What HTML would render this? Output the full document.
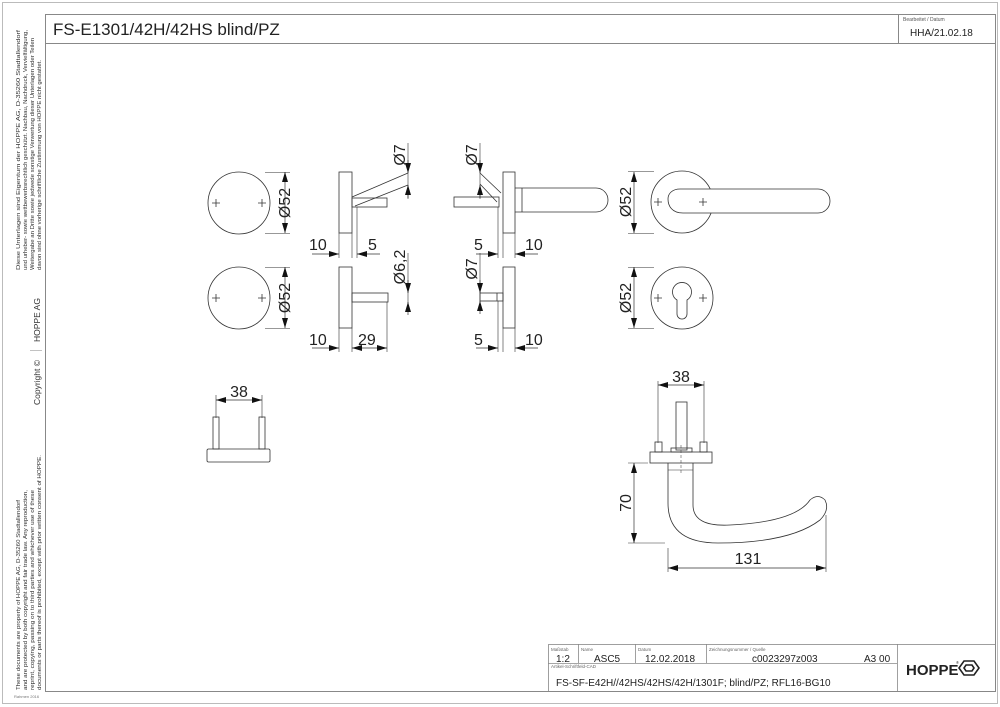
<!DOCTYPE html>
<html><head><meta charset="utf-8"><style>
html,body{margin:0;padding:0;background:#fff;}
svg{display:block;font-family:"Liberation Sans",sans-serif;}
</style></head><body>
<svg width="1000" height="707" viewBox="0 0 1000 707" xmlns="http://www.w3.org/2000/svg">
<defs>
<marker id="a" viewBox="0 0 10 6" refX="10" refY="3" markerWidth="10" markerHeight="6" orient="auto-start-reverse" markerUnits="userSpaceOnUse"><path d="M0,0 L10,3 L0,6 Z" fill="#111"/></marker>
</defs>
<rect x="2.5" y="2.5" width="995" height="701" fill="none" stroke="#bbb" stroke-width="1"/>
<!-- frame -->
<rect x="45.5" y="14.5" width="950" height="677" fill="none" stroke="#888" stroke-width="1"/>
<line x1="45" y1="43.5" x2="995" y2="43.5" stroke="#888"/>
<line x1="898.5" y1="14" x2="898.5" y2="43" stroke="#888"/>
<text x="53" y="35" font-size="17" fill="#222">FS-E1301/42H/42HS blind/PZ</text>
<text x="903" y="21" font-size="5" fill="#555">Bearbeitet / Datum</text>
<text x="910" y="36" font-size="10" fill="#222">HHA/21.02.18</text>

<!-- left margin text -->
<g font-size="5.6" fill="#333">
<text transform="translate(20,270) rotate(-90)" textLength="240" lengthAdjust="spacingAndGlyphs">Diese Unterlagen sind Eigentum der HOPPE AG, D-35260 Stadtallendorf</text>
<text transform="translate(27,270) rotate(-90)" textLength="240" lengthAdjust="spacingAndGlyphs">und urheber- sowie wettbewerbsrechtlich geschützt. Nachbau, Nachdruck, Vervielfältigung,</text>
<text transform="translate(34,270) rotate(-90)" textLength="232" lengthAdjust="spacingAndGlyphs">Weitergabe an Dritte sowie jedwede sonstige Verwertung dieser Unterlagen oder Teilen</text>
<text transform="translate(41,270) rotate(-90)" textLength="210" lengthAdjust="spacingAndGlyphs">davon sind ohne vorherige schriftliche Zustimmung von HOPPE nicht gestattet.</text>
<text transform="translate(20,690) rotate(-90)" textLength="190" lengthAdjust="spacingAndGlyphs">These documents are property of HOPPE AG, D-35260 Stadtallendorf</text>
<text transform="translate(27,690) rotate(-90)" textLength="200" lengthAdjust="spacingAndGlyphs">and are protected by both copyright and fair trade law. Any reproduction,</text>
<text transform="translate(34,690) rotate(-90)" textLength="200" lengthAdjust="spacingAndGlyphs">reprint, copying, passing on to third parties and whichever use of these</text>
<text transform="translate(41,690) rotate(-90)" textLength="235" lengthAdjust="spacingAndGlyphs">documents or parts thereof is prohibited, except with prior written consent of HOPPE.</text>
</g>
<g font-size="8.5" fill="#333">
<text transform="translate(40,405) rotate(-90)">Copyright ©</text>
<text transform="translate(40,342) rotate(-90)">HOPPE  AG</text>
</g>
<line x1="30" y1="350.5" x2="42" y2="350.5" stroke="#999" stroke-width="0.6"/>
<text x="14" y="698" font-size="4" fill="#777">Rahmen 2016</text>

<g fill="none" stroke="#333" stroke-width="0.8">
<!-- row1 front rose -->
<circle cx="239" cy="203" r="31"/>
<path d="M212,203h8M216,199v8M258,203h8M262,199v8"/>
<circle cx="239" cy="298" r="31"/>
<path d="M212,298h8M216,294v8M258,298h8M262,294v8"/>
<!-- extension lines -->
<path d="M265,172.5h25M265,233.5h25M265,267.5h25M265,328.5h25" stroke-width="0.6"/>
<line x1="285" y1="172" x2="285" y2="233" stroke-width="0.7" marker-start="url(#a)" marker-end="url(#a)"/>
<line x1="285" y1="267" x2="285" y2="328" stroke-width="0.7" marker-start="url(#a)" marker-end="url(#a)"/>

<!-- side view 1 -->
<rect x="339" y="172" width="13" height="61"/>
<rect x="352" y="198" width="35" height="9"/>
<path d="M352,197 L408,173 M355,206 L408,185"/>
<path d="M408,143 V199" stroke-width="0.6"/>
<line x1="408" y1="160" x2="408" y2="173" stroke-width="0.7" marker-end="url(#a)"/>
<line x1="408" y1="198" x2="408" y2="185" stroke-width="0.7" marker-end="url(#a)"/>
<path d="M339,233V258M352,233V258M357,207V258" stroke-width="0.6"/>
<line x1="312" y1="254" x2="339" y2="254" stroke-width="0.7" marker-end="url(#a)"/>
<line x1="380" y1="254" x2="357" y2="254" stroke-width="0.7" marker-end="url(#a)"/>

<!-- side view 2 -->
<rect x="503" y="172" width="12" height="61"/>
<path d="M515,188 H596 A12,12 0 0 1 596,212 H515"/>
<path d="M522,188V212"/>
<rect x="454" y="197" width="45" height="10"/>
<path d="M480,173 L501,193 M480,184 L497,202"/>
<path d="M480,143 V199" stroke-width="0.6"/>
<line x1="480" y1="160" x2="480" y2="173" stroke-width="0.7" marker-end="url(#a)"/>
<line x1="480" y1="198" x2="480" y2="185" stroke-width="0.7" marker-end="url(#a)"/>
<path d="M498,207V258M503,233V258M515,233V258" stroke-width="0.6"/>
<line x1="476" y1="254" x2="498" y2="254" stroke-width="0.7" marker-end="url(#a)"/>
<line x1="538" y1="254" x2="515" y2="254" stroke-width="0.7" marker-end="url(#a)"/>

<!-- side view 3 -->
<rect x="339" y="267" width="13" height="61"/>
<rect x="352" y="293" width="36" height="9"/>
<path d="M387,302V352M408,253V310" stroke-width="0.6"/>
<line x1="408" y1="280" x2="408" y2="293" stroke-width="0.7" marker-end="url(#a)"/>
<line x1="408" y1="315" x2="408" y2="302" stroke-width="0.7" marker-end="url(#a)"/>
<path d="M339,328V352M352,328V352" stroke-width="0.6"/>
<line x1="312" y1="348" x2="339" y2="348" stroke-width="0.7" marker-end="url(#a)"/>
<line x1="352" y1="348" x2="387" y2="348" stroke-width="0.7" marker-start="url(#a)" marker-end="url(#a)"/>

<!-- side view 4 -->
<rect x="503" y="267" width="12" height="61"/>
<rect x="480" y="293" width="23" height="8"/>
<path d="M497,293V301"/>
<path d="M480,253V310" stroke-width="0.6"/>
<line x1="480" y1="280" x2="480" y2="293" stroke-width="0.7" marker-end="url(#a)"/>
<line x1="480" y1="314" x2="480" y2="301" stroke-width="0.7" marker-end="url(#a)"/>
<path d="M498,301V352M503,328V352M515,328V352" stroke-width="0.6"/>
<line x1="476" y1="348" x2="498" y2="348" stroke-width="0.7" marker-end="url(#a)"/>
<line x1="538" y1="348" x2="515" y2="348" stroke-width="0.7" marker-end="url(#a)"/>

<!-- right views -->
<circle cx="682" cy="202" r="31"/>
<path d="M680,189 L818,189 A12,12 0 0 1 818,213 L683,213 C672,213 668,206 668,199 C668,193 673,189 680,189 Z" fill="#fff"/>
<path d="M654,202h8M658,198v8M699,202h8M703,198v8"/>
<circle cx="682" cy="298" r="31"/>
<path d="M654,298h8M658,294v8M699,298h8M703,294v8"/>
<path d="M677,300 A9.5,9.5 0 1 1 687,300 V314 A5,5 0 0 1 677,314 Z"/>
<path d="M628,171.5h26M628,233.5h26M628,267.5h26M628,328.5h26" stroke-width="0.6"/>
<line x1="634" y1="172" x2="634" y2="233" stroke-width="0.7" marker-start="url(#a)" marker-end="url(#a)"/>
<line x1="634" y1="267" x2="634" y2="328" stroke-width="0.7" marker-start="url(#a)" marker-end="url(#a)"/>

<!-- bottom left -->
<rect x="207" y="449" width="63" height="13" rx="1.5"/>
<rect x="213" y="417" width="6" height="32"/>
<rect x="259" y="417" width="6" height="32"/>
<path d="M216,395V418M262,395V418" stroke-width="0.6"/>
<line x1="216" y1="400" x2="262" y2="400" stroke-width="0.7" marker-start="url(#a)" marker-end="url(#a)"/>

<!-- bottom right -->
<rect x="676" y="402" width="11" height="48"/>
<rect x="650" y="452" width="62" height="11"/>
<rect x="655" y="442" width="7" height="10"/>
<rect x="700" y="442" width="7" height="10"/>
<rect x="671" y="448" width="21" height="4"/>
<path d="M681,445V475" stroke-dasharray="3,2" stroke-width="0.5"/>
<path d="M658,381V443M704,381V443" stroke-width="0.6"/>
<line x1="658" y1="385" x2="704" y2="385" stroke-width="0.7" marker-start="url(#a)" marker-end="url(#a)"/>
<path d="M668,463 V503 Q668,543 718,543 Q790,543 820,520 Q830,510 825,500 Q818,493 810,500 Q795,522 730,525 Q693,527 693,505 V463"/>
<path d="M668,470 H693" stroke-width="0.6"/>
<path d="M628,463h20M628,543h37M668,548V572M826,515V572" stroke-width="0.6"/>
<line x1="634" y1="463" x2="634" y2="543" stroke-width="0.7" marker-start="url(#a)" marker-end="url(#a)"/>
<line x1="668" y1="568" x2="826" y2="568" stroke-width="0.7" marker-start="url(#a)" marker-end="url(#a)"/>
</g>

<!-- dimension texts -->
<g font-size="16" fill="#222">
<text transform="translate(290,203) rotate(-90)" text-anchor="middle">Ø52</text>
<text transform="translate(290,298) rotate(-90)" text-anchor="middle">Ø52</text>
<text transform="translate(405,155) rotate(-90)" text-anchor="middle">Ø7</text>
<text transform="translate(477,155) rotate(-90)" text-anchor="middle">Ø7</text>
<text transform="translate(405,267) rotate(-90)" text-anchor="middle">Ø6,2</text>
<text transform="translate(477,269) rotate(-90)" text-anchor="middle">Ø7</text>
<text transform="translate(631,202) rotate(-90)" text-anchor="middle">Ø52</text>
<text transform="translate(631,298) rotate(-90)" text-anchor="middle">Ø52</text>
<text transform="translate(631,503) rotate(-90)" text-anchor="middle">70</text>
<text x="309" y="250">10</text><text x="368" y="250">5</text>
<text x="474" y="250">5</text><text x="525" y="250">10</text>
<text x="309" y="345">10</text><text x="358" y="345">29</text>
<text x="474" y="345">5</text><text x="525" y="345">10</text>
<text x="239" y="397" text-anchor="middle">38</text>
<text x="681" y="382" text-anchor="middle">38</text>
<text x="748" y="564" text-anchor="middle">131</text>
</g>

<!-- title block -->
<g fill="none" stroke="#888" stroke-width="0.8">
<rect x="548.5" y="644.5" width="447" height="47"/>
<line x1="548" y1="663.5" x2="897" y2="663.5"/>
<line x1="897.5" y1="644" x2="897.5" y2="691"/>
<line x1="578.5" y1="644" x2="578.5" y2="663"/>
<line x1="635.5" y1="644" x2="635.5" y2="663"/>
<line x1="706.5" y1="644" x2="706.5" y2="663"/>
</g>
<g font-size="4.5" fill="#666">
<text x="551" y="651">Maßstab</text><text x="581" y="651">Name</text><text x="638" y="651">Datum</text><text x="709" y="651">Zeichnungsnummer / Quelle</text>
<text x="551" y="668">Artikel-Schriftfeld-CAD</text>
</g>
<g font-size="10" fill="#222">
<text x="556" y="662">1:2</text>
<text x="594" y="662">ASC5</text>
<text x="645" y="662">12.02.2018</text>
<text x="752" y="662">c0023297z003</text>
<text x="864" y="662">A3 00</text>
<text x="556" y="686">FS-SF-E42H//42HS/42HS/42H/1301F; blind/PZ; RFL16-BG10</text>
</g>
<text x="906" y="675" font-size="15" font-weight="bold" fill="#222">HOPPE</text>
<text x="956" y="664" font-size="4" fill="#222">®</text>
<path d="M964,661 L974,661 L979,668 L974,675 L964,675 L959,668 Z M966,665 L972,665 L974,668 L972,671 L966,671 L964,668 Z" fill="none" stroke="#222" stroke-width="1.6"/>
</svg>
</body></html>
